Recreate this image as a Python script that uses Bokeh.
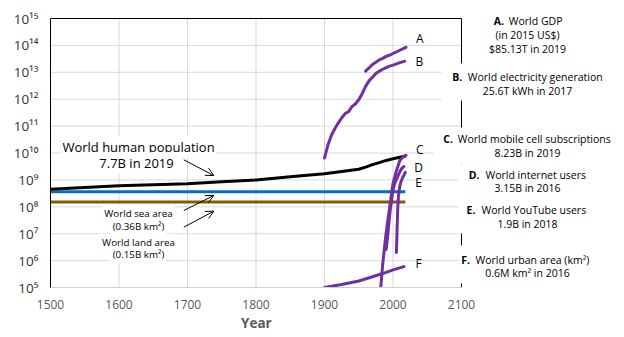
from bokeh.plotting import figure
from bokeh.models import (Range1d, Label, Arrow, OpenHead, BoxAnnotation, Title,
                          FixedTicker, CustomJSTickFormatter)
from bokeh.embed import file_html
from bokeh.resources import INLINE

# ---------------- data ----------------
pop_years = [1500, 1600, 1700, 1750, 1800, 1850, 1900, 1950, 1960, 1970, 1980, 1990, 2000, 2010, 2019]
pop_values = [0.45e9, 0.6e9, 0.72e9, 0.85e9, 1.0e9, 1.3e9, 1.7e9, 2.5e9, 3.0e9, 3.7e9, 4.4e9, 5.3e9, 6.1e9, 6.9e9, 7.7e9]

sea_years = [1500, 2018]
sea_values = [3.6e8, 3.6e8]

land_years = [1500, 2018]
land_values = [1.5e8, 1.5e8]

gdp_years = [1960, 1965, 1970, 1975, 1980, 1985, 1990, 1995, 2000, 2005, 2010, 2015, 2019]
gdp_values = [11.1e12, 14.5e12, 19.5e12, 23.5e12, 29e12, 33e12, 39e12, 43e12, 50e12, 57e12, 66e12, 76e12, 85.13e12]

elec_years = [1900, 1905, 1910, 1915, 1920, 1925, 1930, 1935, 1940, 1945, 1950, 1955, 1960,
              1965, 1970, 1975, 1980, 1985, 1990, 1995, 2000, 2005, 2010, 2015, 2017]
elec_values = [6.5e9, 2.0e10, 4.5e10, 8.0e10, 1.3e11, 2.0e11, 2.9e11, 3.4e11, 5.3e11, 6.6e11, 9.5e11, 1.6e12, 3.0e12,
               4.8e12, 6.6e12, 9.0e12, 1.1e13, 1.3e13, 1.5e13, 1.7e13, 1.85e13, 2.05e13, 2.3e13, 2.5e13, 2.56e13]

mobile_years = [1980, 1985, 1990, 1995, 2000, 2005, 2010, 2015, 2019]
mobile_values = [2.3e4, 7.5e5, 1.1e7, 9.1e7, 7.4e8, 2.2e9, 5.3e9, 7.2e9, 8.23e9]

internet_years = [1990, 1992, 1994, 1996, 1998, 2000, 2002, 2004, 2006, 2008, 2010, 2012, 2014, 2016]
internet_values = [2.6e6, 7e6, 2.5e7, 7.7e7, 1.88e8, 4.13e8, 6.6e8, 9.1e8, 1.16e9, 1.57e9, 2.0e9, 2.5e9, 2.9e9, 3.15e9]

youtube_years = [2005, 2006, 2007, 2008, 2010, 2012, 2014, 2016, 2018]
youtube_values = [2e6, 1.5e7, 1e8, 2.5e8, 6e8, 9e8, 1.2e9, 1.5e9, 1.9e9]

urban_years = [1900, 1925, 1950, 1970, 1985, 2000, 2016]
urban_values = [1.0e5, 1.3e5, 1.75e5, 2.5e5, 3.3e5, 4.5e5, 6.0e5]

x_ticks = [1500, 1600, 1700, 1800, 1900, 2000, 2100]
y_ticks = [1e5, 1e6, 1e7, 1e8, 1e9, 1e10, 1e11, 1e12, 1e13, 1e14, 1e15]
y_tick_labels = ["10⁵", "10⁶", "10⁷", "10⁸", "10⁹", "10¹⁰", "10¹¹", "10¹²", "10¹³", "10¹⁴", "10¹⁵"]

series_letters = ["A", "B", "C", "D", "E", "F"]
block_titles = ["World GDP", "World electricity generation", "World mobile cell subscriptions",
                "World internet users", "World YouTube users", "World urban area (km²)"]
block_details = [["(in 2015 US$)", "$85.13T in 2019"], ["25.6T kWh in 2017"], ["8.23B in 2019"],
                 ["3.15B in 2016"], ["1.9B in 2018"], ["0.6M km² in 2016"]]

# ---------------- layout helpers (pixel -> data) ----------------
W, H = 624, 337
FL, FR, FT, FB = 50, 461, 18, 287   # axes box in pixels
X0, X1 = 1500, 2100
Y0, Y1 = 1e5, 1e15


def X(px):
    return X0 + (px - FL) * (X1 - X0) / (FR - FL)


def Y(py):
    return 10 ** (15 - (py - FT) * 10 / (FB - FT))


FONT = "Open Sans"
PURPLE = "#7030A0"
GRID = "#D9D9D9"

# the frame spans the whole width and reaches the top so that the notes are drawable
p = figure(width=W, height=H, x_range=Range1d(X0, X(W)), y_range=Range1d(Y0, Y(0)),
           y_axis_type="log", output_backend="svg", toolbar_location=None,
           min_border_left=FL, min_border_right=0, min_border_top=0, min_border_bottom=H - FB)
p.outline_line_color = None
p.background_fill_color = "white"
p.border_fill_color = "white"

# grid
p.xgrid.ticker = FixedTicker(ticks=x_ticks)
p.xgrid.grid_line_color = None
p.ygrid.visible = False
p.segment(x0=[X0] * len(y_ticks), x1=[X1] * len(y_ticks), y0=y_ticks, y1=y_ticks,
          line_color=GRID, line_width=1, level="underlay")
p.segment(x0=x_ticks, x1=x_ticks, y0=[Y0] * len(x_ticks), y1=[Y1] * len(x_ticks),
          line_color=GRID, line_width=1, level="underlay")

# x axis
p.xaxis.ticker = FixedTicker(ticks=x_ticks)
p.xaxis.bounds = (X0, X1)
p.xaxis.axis_line_color = "#D0D0D0"
p.xaxis.major_tick_line_color = None
p.xaxis.minor_tick_line_color = None
p.xaxis.major_label_text_font = FONT
p.xaxis.major_label_text_font_size = "12px"
p.xaxis.major_label_text_color = "#595959"
p.xaxis.major_label_standoff = 6

# axis title, centred under the axes box
p.add_layout(Title(text="Year", align="left", offset=(FR - FL) / 2 - 15, text_font=FONT,
                   text_font_size="13.5px", text_font_style="bold", text_color="#595959",
                   standoff=0), "below")

# y axis
p.yaxis.ticker = FixedTicker(ticks=y_ticks)
p.yaxis.bounds = (Y0, Y1)
p.yaxis.formatter = CustomJSTickFormatter(args=dict(labels=y_tick_labels),
                                          code="return labels[Math.round(Math.log10(tick)) - 5];")
p.yaxis.axis_line_color = "black"
p.yaxis.major_tick_line_color = None
p.yaxis.minor_tick_line_color = None
p.yaxis.major_label_text_font = FONT
p.yaxis.major_label_text_font_size = "13.5px"
p.yaxis.major_label_text_color = "#333333"
p.yaxis.major_label_standoff = 6

# top and right borders of the axes box
p.segment(x0=[X0], x1=[X1], y0=[Y1], y1=[Y1], line_color="black", line_width=1)
p.segment(x0=[X1], x1=[X1], y0=[Y0], y1=[Y1], line_color="black", line_width=1)

# ---------------- series ----------------
p.line(sea_years, sea_values, color="#0070C0", line_width=3)
p.line(land_years, land_values, color="#7F6000", line_width=3)
p.line(pop_years, pop_values, color="black", line_width=3, line_join="round")
for xs, ys in [(gdp_years, gdp_values), (elec_years, elec_values), (mobile_years, mobile_values),
               (internet_years, internet_values), (youtube_years, youtube_values), (urban_years, urban_values)]:
    p.line(xs, ys, color=PURPLE, line_width=3, line_join="round", line_cap="round")

# ---------------- white boxes behind right-hand notes ----------------
for (l, r, t, b) in [(441, 615, 63, 100), (433, 615, 127, 163), (458, 615, 163, 233), (458, 615, 245, 283)]:
    p.add_layout(BoxAnnotation(left=X(l), right=X(r), top=Y(t), bottom=Y(b),
                               fill_color="white", fill_alpha=1.0, line_color=None))


def label(px, py, text, size, align="center", style="normal", bg=None, color="black"):
    kw = dict(x=X(px), y=Y(py), text=text, text_font=FONT, text_font_size=size,
              text_align=align, text_baseline="middle", text_font_style=style, text_color=color)
    if bg:
        kw.update(background_fill_color=bg, padding=2)
    p.add_layout(Label(**kw))


# left notes
label(138, 146.7, "World human population", "13px", bg="white")
label(136, 162.7, "7.7B in 2019", "13px", bg="white")
label(138, 212.7, "World sea area", "9.8px", bg="white")
label(138, 226, "(0.36B km²)", "9.8px", bg="white")
label(138, 241.7, "World land area", "9.8px", bg="white")
label(138, 254.3, "(0.15B km²)", "9.8px", bg="white")

# arrows
for (x0, y0, x1, y1) in [(183.3, 159.3, 213.3, 175), (183.3, 210, 213.3, 195), (183.3, 226.7, 213.3, 210.7)]:
    p.add_layout(Arrow(end=OpenHead(size=8, line_width=1, line_color="black"),
                       x_start=X(x0), y_start=Y(y0), x_end=X(x1), y_end=Y(y1),
                       line_width=1, line_color="black"))

# series letters
letter_pos = [(419.3, 37.7), (419, 61), (419.3, 149.3), (418, 166.7), (418, 181.7), (418, 263.3)]
for (lx, ly), letter in zip(letter_pos, series_letters):
    label(lx, ly, letter, "12px")

# right notes
prefix_x = [493.3, 451.7, 442.7, 468.3, 466, 460.7]
title_x = [508.3, 467.3, 457.3, 485, 481, 475]
block_y = [20.7, 76.7, 138.3, 174, 209.3, 259]
for i, letter in enumerate(series_letters):
    label(title_x[i], block_y[i], block_titles[i], "10.5px", align="left")
    label(prefix_x[i], block_y[i], letter + ".", "10.5px", align="left", style="bold")
    for j, line in enumerate(block_details[i]):
        label(527, block_y[i] + 13.8 * (j + 1), line, "10.5px")

open("out.html", "w").write(file_html(p, INLINE))
